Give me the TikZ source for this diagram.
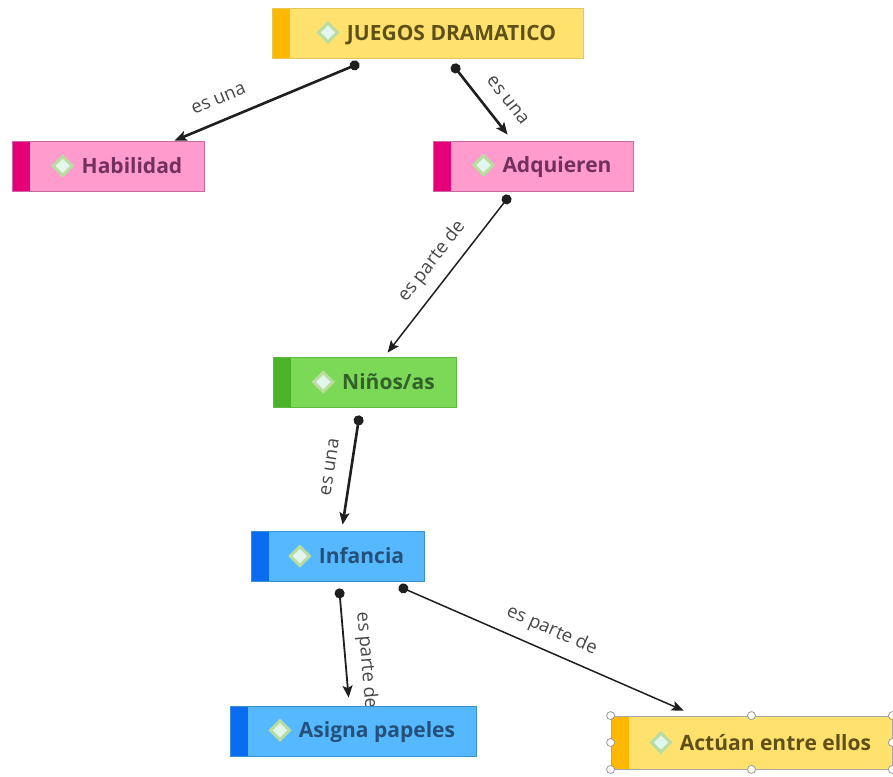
\documentclass[tikz,border=0pt]{standalone}
\usepackage{fontspec}
\setmainfont{Open Sans}
\usetikzlibrary{arrows.meta,backgrounds}
\definecolor{yF}{HTML}{FFE16E}\definecolor{yB}{HTML}{FFB800}\definecolor{yD}{HTML}{E6C656}\definecolor{yT}{HTML}{5E5018}
\definecolor{pF}{HTML}{FF9BCD}\definecolor{pB}{HTML}{E5007A}\definecolor{pD}{HTML}{C86AA0}\definecolor{pT}{HTML}{723060}
\definecolor{gF}{HTML}{7CD957}\definecolor{gB}{HTML}{4BB32A}\definecolor{gD}{HTML}{5FB940}\definecolor{gT}{HTML}{34602A}
\definecolor{bF}{HTML}{56B9FF}\definecolor{bB}{HTML}{0A6CF0}\definecolor{bD}{HTML}{3A8FD0}\definecolor{bT}{HTML}{24507A}
\definecolor{icD}{HTML}{B9DDA0}\definecolor{icF}{HTML}{E3F6EE}
\newcommand\ico{\tikz[baseline={(0,-0.36em)},x=1pt,y=1pt]\draw[draw=icD,fill=icF,line width=3pt] (0,9.5)--(9.5,0)--(0,-9.5)--(-9.5,0)--cycle;}
\newcommand\bxt[1]{\hspace*{18pt}\ico\hspace{8pt}#1}
\tikzset{
  bx/.style={rectangle, minimum height=50pt, inner sep=0pt, line width=0.8pt,
    font=\bfseries\fontsize{21}{25}\selectfont},
  barfill/.style={path picture={\fill[#1] (path picture bounding box.north west) rectangle ([xshift=18pt]path picture bounding box.south west);}},
  yel/.style={bx, fill=yF, draw=yD, text=yT, barfill=yB},
  pnk/.style={bx, fill=pF, draw=pD, text=pT, barfill=pB},
  grn/.style={bx, fill=gF, draw=gD, text=gT, barfill=gB},
  blu/.style={bx, fill=bF, draw=bD, text=bT, barfill=bB},
  conn/.style={draw=black!88, line width=#1, {Circle[length=10pt]}-{Stealth[length=12pt,width=10pt,inset=2.5pt]}, shorten <=-5pt},
  lbl/.style={sloped, above=11pt, inner sep=0pt, text height=13pt, text depth=4pt,
    font=\fontsize{18.5}{20}\selectfont, text=black!72},
  handle/.style={draw=black!40, fill=white, line width=0.8pt}
}
\begin{document}
\begin{tikzpicture}[x=1pt,y=-1pt]
\useasboundingbox (0,0) rectangle (893,776);
\node[yel, minimum width=311pt] (juegos) at (427.5,33) {\bxt{JUEGOS DRAMATICO}};
\node[pnk, minimum width=192pt] (habil) at (108,166) {\bxt{Habilidad}};
\node[pnk, minimum width=200pt] (adq) at (533,166) {\bxt{Adquieren}};
\node[grn, minimum width=183pt] (ninos) at (364.5,382) {\bxt{Niños/as}};
\node[blu, minimum width=173pt] (inf) at (337.5,556) {\bxt{Infancia}};
\node[blu, minimum width=246pt] (asig) at (353,731) {\bxt{Asigna papeles}};
\node[yel, draw=black!35, minimum width=281pt, minimum height=53pt] (act) at (751.5,742.5) {\bxt{Actúan entre ellos}};
\begin{scope}[on background layer]
\draw[conn=2.6pt] ([shift={(83,7)}]juegos.south west) -- node[lbl, pos=0.71] {es una} ([shift={(163,0)}]habil.north west);
\draw[conn=2.6pt] ([shift={(184,10)}]juegos.south west) -- node[lbl, pos=0.68] {es una} ([shift={(75,-6)}]adq.north west);
\draw[conn=1.5pt] ([shift={(74,8)}]adq.south west) -- node[lbl, pos=0.49] {es parte de} ([shift={(115,-4)}]ninos.north west);
\draw[conn=2.6pt] ([shift={(86,13)}]ninos.south west) -- node[lbl, pos=0.48] {es una} ([shift={(92,-6)}]inf.north west);
\draw[conn=1.8pt] ([shift={(89,12)}]inf.south west) -- node[lbl, pos=0.66] {es parte de} ([shift={(119,-8)}]asig.north west);
\draw[conn=1.5pt] ([shift={(-21,7)}]inf.south east) -- node[lbl, pos=0.5] {es parte de} ([shift={(73,-5)}]act.north west);
\end{scope}
\foreach \a in {north west, north, north east, west, east, south west, south, south east}
  \draw[handle] (act.\a) circle (4pt);
\end{tikzpicture}
\end{document}
